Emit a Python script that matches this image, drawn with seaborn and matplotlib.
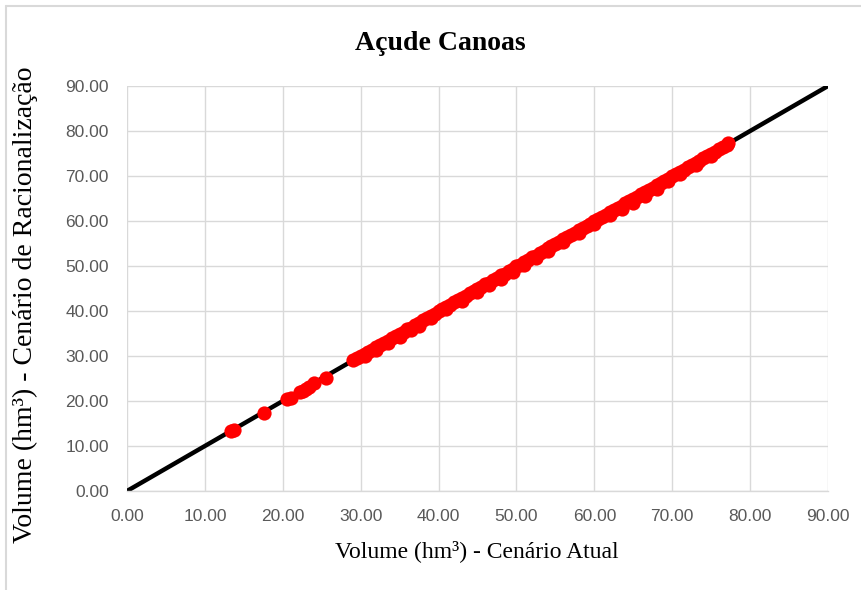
import matplotlib
matplotlib.use("Agg")
import matplotlib.pyplot as plt
import seaborn as sns
import pandas as pd
from matplotlib.lines import Line2D

# ---- data ----
line_x = [0.0, 90.0]
line_y = [0.0, 90.0]

low_x = [13.4, 13.8, 17.6, 20.6, 21.0, 22.2, 22.6, 23.0, 23.4, 24.0, 25.5]
low_y = [13.4, 13.6, 17.4, 20.4, 20.7, 21.9, 22.3, 22.7, 23.1, 23.9, 25.2]

band_x = [29.0, 29.5, 30.0, 30.5, 31.0, 31.5, 32.0, 32.5, 33.0, 33.5, 34.0, 34.5,
          35.0, 35.5, 36.0, 36.5, 37.0, 37.5, 38.0, 38.5, 39.0, 39.5, 40.0, 40.5,
          41.0, 41.5, 42.0, 42.5, 43.0, 43.5, 44.0, 44.5, 45.0, 45.5, 46.0, 46.5,
          47.0, 47.5, 48.0, 48.5, 49.0, 49.5, 50.0, 50.5, 51.0, 51.5, 52.0, 52.5,
          53.0, 53.5, 54.0, 54.5, 55.0, 55.5, 56.0, 56.5, 57.0, 57.5, 58.0, 58.5,
          59.0, 59.5, 60.0, 60.5, 61.0, 61.5, 62.0, 62.5, 63.0, 63.5, 64.0, 64.5,
          65.0, 65.5, 66.0, 66.5, 67.0, 67.5, 68.0, 68.5, 69.0, 69.5, 70.0, 70.5,
          71.0, 71.5, 72.0, 72.5, 73.0, 73.5, 74.0, 74.5, 75.0, 75.5, 76.0, 76.5,
          77.0, 77.2]
band_y = [29.1, 29.6, 30.0, 30.5, 31.0, 31.4, 32.0, 32.4, 33.0, 33.4, 34.0, 34.4,
          35.0, 35.4, 35.9, 36.3, 36.9, 37.4, 37.9, 38.4, 39.0, 39.4, 40.0, 40.4,
          40.9, 41.4, 42.0, 42.4, 42.9, 43.4, 43.9, 44.4, 44.9, 45.3, 45.9, 46.3,
          46.9, 47.3, 47.9, 48.3, 48.9, 49.3, 49.9, 50.3, 50.9, 51.3, 51.9, 52.3,
          52.9, 53.4, 53.9, 54.4, 54.9, 55.4, 55.9, 56.4, 57.0, 57.4, 58.0, 58.4,
          59.0, 59.4, 60.0, 60.4, 60.9, 61.4, 61.9, 62.4, 62.9, 63.4, 63.9, 64.4,
          64.9, 65.4, 65.9, 66.4, 66.9, 67.4, 67.9, 68.4, 68.9, 69.4, 70.0, 70.4,
          71.0, 71.4, 72.0, 72.4, 73.0, 73.4, 74.0, 74.4, 75.0, 75.4, 76.0, 76.5,
          77.0, 77.3]

under_x = [30.5, 32.0, 33.5, 35.0, 36.5, 37.5, 39.0, 41.0, 43.0, 45.0, 46.5, 48.0,
           49.5, 51.0, 52.5, 54.0, 56.0, 58.0, 60.0, 62.0, 63.5, 65.0, 66.5, 68.0,
           69.5, 71.0, 73.0, 75.0]
under_y = [29.9, 31.3, 32.9, 34.3, 35.7, 36.7, 38.4, 40.4, 42.3, 44.2, 45.7, 47.2,
           48.7, 50.2, 51.7, 53.3, 55.3, 57.4, 59.4, 61.3, 62.7, 64.1, 65.6, 67.2,
           68.9, 70.4, 72.4, 74.5]

ticks = [0, 10, 20, 30, 40, 50, 60, 70, 80, 90]
tick_labels = ["0.00", "10.00", "20.00", "30.00", "40.00", "50.00", "60.00",
               "70.00", "80.00", "90.00"]

title = "Açude Canoas"
xlabel = "Volume (hm³) - Cenário Atual"
ylabel = "Volume (hm³) - Cenário de Racionalização"

# ---- figure ----
sns.set_theme(style="white")
plt.rcParams["font.family"] = ["Liberation Serif", "DejaVu Serif"]

fig = plt.figure(figsize=(8.62, 5.90), dpi=100)
ax = fig.add_axes([127 / 862, 1 - 491 / 590, 701 / 862, 405 / 590])

line_df = pd.DataFrame({"x": line_x, "y": line_y})
pts_df = pd.DataFrame({"x": low_x + band_x + under_x,
                       "y": low_y + band_y + under_y})

sns.lineplot(data=line_df, x="x", y="y", ax=ax, color="black", linewidth=3.2,
             zorder=2)
sns.scatterplot(data=pts_df, x="x", y="y", ax=ax, color="#ff0000", s=105,
                linewidth=0, zorder=3)

ax.set_xlim(0, 90)
ax.set_ylim(0, 90)
ax.set_xticks(ticks)
ax.set_yticks(ticks)
tick_font = {"family": ["Liberation Sans Narrow", "Liberation Sans", "DejaVu Sans"],
             "size": 12.5, "color": "#595959"}
ax.set_xticklabels(tick_labels, **tick_font)
ax.set_yticklabels(tick_labels, **tick_font)
ax.tick_params(axis="x", length=0, pad=13)
ax.tick_params(axis="y", length=0, pad=13)
ax.grid(True, color="#d9d9d9", linewidth=1)
for s in ["top", "right", "left"]:
    ax.spines[s].set_visible(False)
ax.spines["bottom"].set_color("#d9d9d9")
ax.spines["bottom"].set_linewidth(1)
ax.set_axisbelow(True)

ax.set_xlabel("")
ax.set_ylabel("")
fig.text(477 / 862, 1 - 551 / 590, xlabel, ha="center", va="center",
         fontsize=17, color="black")
fig.text(25 / 862, 1 - 305 / 590, ylabel, ha="center", va="center",
         rotation=90, fontsize=20, color="black")
fig.text(440 / 862, 1 - 44 / 590, title, ha="center", va="center",
         fontsize=20, fontweight="bold", color="black")

# chart area border
fig.add_artist(Line2D([6 / 862, 1.0], [1 - 6 / 590, 1 - 6 / 590],
                      transform=fig.transFigure, color="#d9d9d9", linewidth=1.5))
fig.add_artist(Line2D([6 / 862, 6 / 862], [0.0, 1 - 6 / 590],
                      transform=fig.transFigure, color="#d9d9d9", linewidth=1.5))

fig.savefig("out.png", dpi=100, facecolor="white")
